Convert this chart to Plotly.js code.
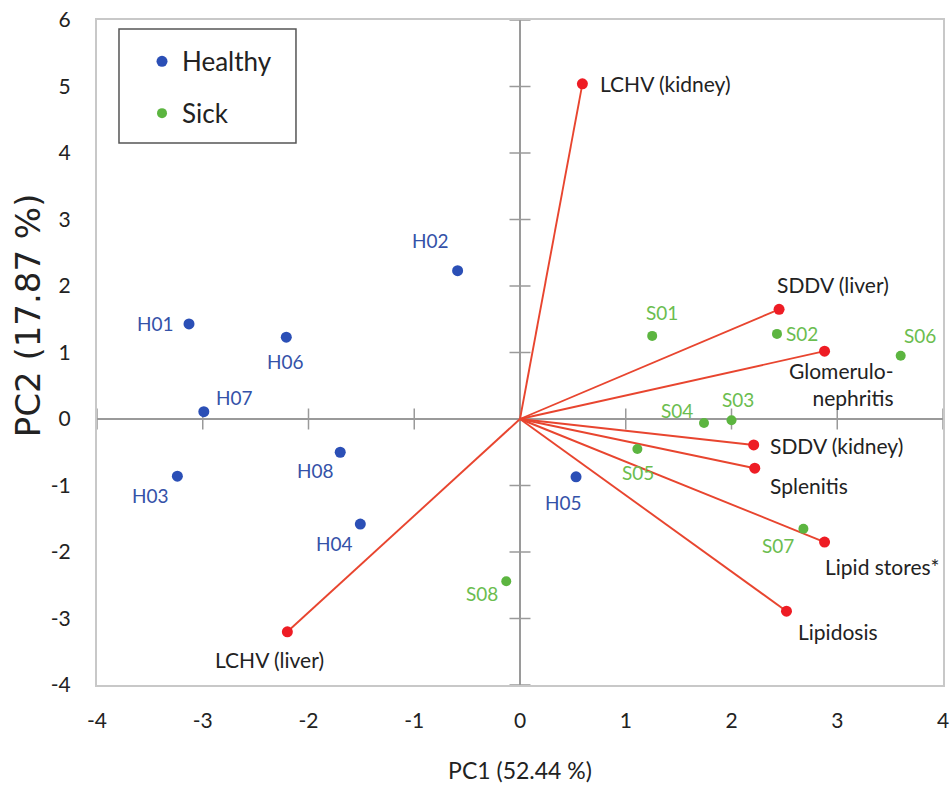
<!DOCTYPE html>
<html><head><meta charset="utf-8">
<script src="https://cdn.plot.ly/plotly-3.0.1.min.js"></script>
<style>html,body{margin:0;padding:0;background:#fff}#chart{width:951px;height:785px}</style>
</head><body><div id="chart"></div>
<script>
// ---- data ----
const healthyNames = ['H01','H02','H03','H04','H05','H06','H07','H08'];
const healthyX = [-3.13, -0.59, -3.24, -1.51, 0.53, -2.21, -2.99, -1.70];
const healthyY = [1.43, 2.23, -0.86, -1.58, -0.87, 1.23, 0.11, -0.50];

const sickNames = ['S01','S02','S03','S04','S05','S06','S07','S08'];
const sickX = [1.25, 2.43, 2.00, 1.74, 1.11, 3.60, 2.68, -0.13];
const sickY = [1.25, 1.28, -0.02, -0.06, -0.45, 0.95, -1.65, -2.44];

const loadingNames = ['LCHV (kidney)','LCHV (liver)','SDDV (liver)','Glomerulo-<br>nephritis','SDDV (kidney)','Splenitis','Lipid stores*','Lipidosis'];
const loadingX = [0.59, -2.20, 2.45, 2.88, 2.21, 2.22, 2.88, 2.52];
const loadingY = [5.04, -3.20, 1.65, 1.02, -0.39, -0.74, -1.85, -2.89];

const xTicks = [-4,-3,-2,-1,0,1,2,3,4];
const xTickText = ['-4','-3','-2','-1','0','1','2','3','4'];
const yTicks = [-4,-3,-2,-1,0,1,2,3,4,5,6];
const yTickText = ['-4','-3','-2','-1','0','1','2','3','4','5','6'];
const xTitle = 'PC1 (52.44 %)';
const yTitle = 'PC2 (17.87 %)';

// ---- styles (label offsets in px) ----
const healthyOff = [[-34,0],[-27,30],[-27,-19],[-26,-19],[-13,-26],[-1,-24],[31,14],[-25,-18]];
const sickOff = [[10,23],[25,0],[6,21],[-27,12],[1,-24],[19,20],[-25,-17],[-24,-12]];
const loadOff = [
  {xa:'left', xs:16, ys:0},
  {xa:'center', xs:-18, ys:-28},
  {xa:'left', xs:-4, ys:25},
  {xa:'right', xs:71, ys:-33},
  {xa:'left', xs:14, ys:-1},
  {xa:'left', xs:13, ys:-17},
  {xa:'left', xs:-2, ys:-24},
  {xa:'left', xs:10, ys:-20}
];

const FONT = 'Lato, "Noto Sans", sans-serif';
const BLUE = '#2b4fb6', GREEN = '#5cb540', RED = '#ee1c24', LINE = '#e8452f';
const BLUE_T = '#3452a8', GREEN_T = '#6bbd4f', BLACK_T = '#222222';

// loading vectors
const lx = [], ly = [];
loadingX.forEach((v,i) => { lx.push(0, v, null); ly.push(0, loadingY[i], null); });

const traces = [
  { x: yTicks.map(()=>0), y: yTicks, mode:'markers', type:'scatter', showlegend:false, hoverinfo:'skip', cliponaxis:false,
    marker:{symbol:'line-ew', size:15, line:{width:1.5, color:'#9a9a9a'}} },
  { x: xTicks, y: xTicks.map(()=>0), mode:'markers', type:'scatter', showlegend:false, hoverinfo:'skip', cliponaxis:false,
    marker:{symbol:'line-ns', size:15, line:{width:1.5, color:'#9a9a9a'}} },
  { x: lx, y: ly, mode:'lines', type:'scatter', showlegend:false, hoverinfo:'skip',
    line:{color:LINE, width:1.9} },
  { x: loadingX, y: loadingY, mode:'markers', type:'scatter', showlegend:false, cliponaxis:false,
    marker:{color:RED, size:11}, text: loadingNames },
  { x: healthyX, y: healthyY, mode:'markers', type:'scatter', name:'Healthy', legendgroup:'h', cliponaxis:false,
    marker:{color:BLUE, size:11}, text: healthyNames },
  { x: sickX, y: sickY, mode:'markers', type:'scatter', name:'Sick', legendgroup:'s', cliponaxis:false,
    marker:{color:GREEN, size:10}, text: sickNames }
];

const annotations = [];
healthyNames.forEach((n,i) => annotations.push({x:healthyX[i], y:healthyY[i], text:n, showarrow:false,
  xshift:healthyOff[i][0], yshift:healthyOff[i][1], font:{family:FONT, size:19, color:BLUE_T}}));
sickNames.forEach((n,i) => annotations.push({x:sickX[i], y:sickY[i], text:n, showarrow:false,
  xshift:sickOff[i][0], yshift:sickOff[i][1], font:{family:FONT, size:19, color:GREEN_T}}));
loadingNames.forEach((n,i) => annotations.push({x:loadingX[i], y:loadingY[i], text:n, showarrow:false,
  xanchor:loadOff[i].xa, align:loadOff[i].xa==='right'?'right':'left',
  xshift:loadOff[i].xs, yshift:loadOff[i].ys, font:{family:FONT, size:21, color:BLACK_T}}));
annotations.push({xref:'paper', yref:'paper', x:-0.0816, y:0.556, text:yTitle, textangle:-90, showarrow:false,
  xanchor:'center', yanchor:'middle', font:{family:'"DejaVu Sans", sans-serif', size:34, color:'#222'}});

const layout = {
  width:951, height:785,
  margin:{l:97, r:8, t:20, b:100},
  paper_bgcolor:'#fff', plot_bgcolor:'#fff',
  font:{family:FONT, color:'#222'},
  showlegend:true,
  legend:{x:0.0532, y:0.973, xanchor:'left', yanchor:'top', bgcolor:'rgba(0,0,0,0)', borderwidth:0,
    font:{family:FONT, size:26, color:'#222'}, traceorder:'grouped', tracegroupgap:15, itemwidth:30},
  shapes:[{type:'rect', xref:'paper', yref:'paper', x0:0.026, x1:0.2352, y0:0.815, y1:0.9865,
    line:{color:'#555', width:1.5}, fillcolor:'rgba(0,0,0,0)', layer:'above'}],
  xaxis:{range:[-4,4], tickmode:'array', tickvals:xTicks, ticktext:xTickText, ticks:'outside', ticklen:16, tickcolor:'rgba(0,0,0,0)',
    showgrid:false, zeroline:true, zerolinecolor:'#9a9a9a', zerolinewidth:2,
    showline:true, mirror:true, linecolor:'#c8c8c8', linewidth:2,
    tickfont:{family:FONT, size:21, color:'#222'},
    title:{text:xTitle, font:{family:FONT, size:23, color:'#222'}, standoff:32}, fixedrange:true},
  yaxis:{range:[-4,6], tickmode:'array', tickvals:yTicks, ticktext:yTickText, ticks:'outside', ticklen:20, tickcolor:'rgba(0,0,0,0)',
    showgrid:false, zeroline:true, zerolinecolor:'#9a9a9a', zerolinewidth:2,
    showline:true, mirror:true, linecolor:'#c8c8c8', linewidth:2,
    tickfont:{family:FONT, size:21, color:'#222'}, fixedrange:true},
  annotations: annotations,
  hovermode:false
};

Plotly.newPlot('chart', traces, layout, {staticPlot:true, displayModeBar:false});
</script></body></html>
